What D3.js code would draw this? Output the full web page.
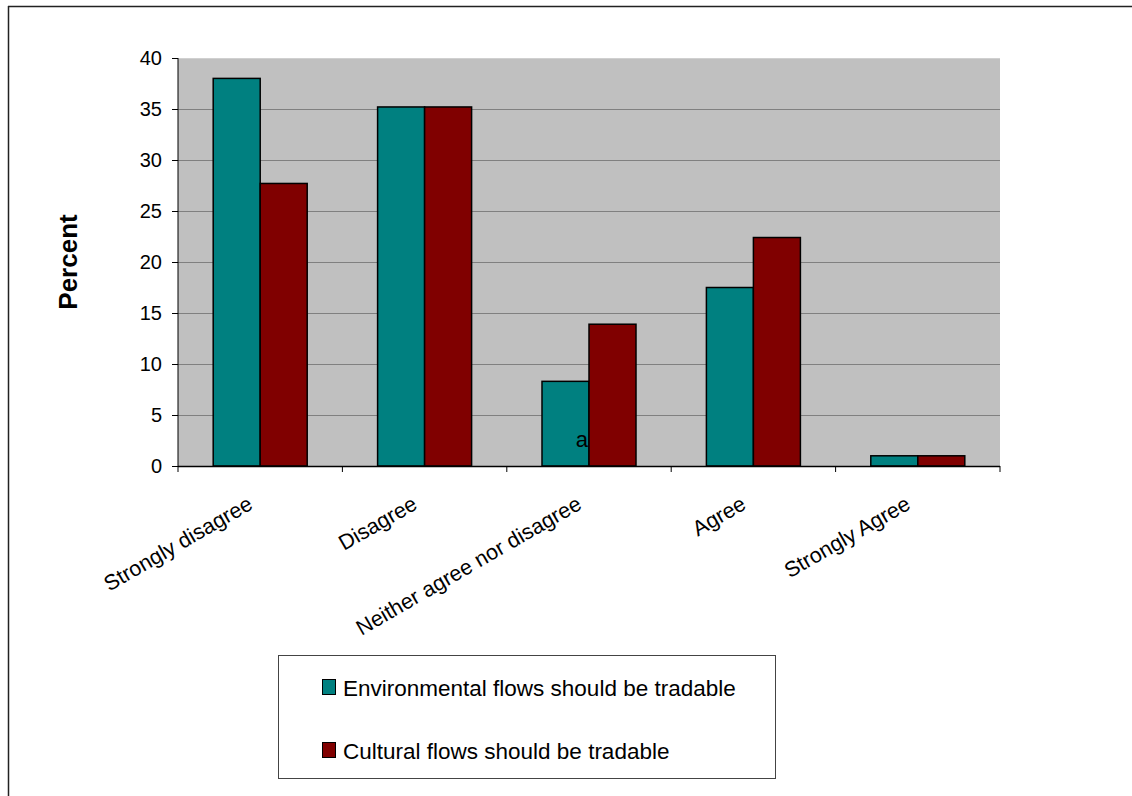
<!DOCTYPE html>
<html>
<head>
<meta charset="utf-8">
<script src="https://cdn.jsdelivr.net/npm/d3@7"></script>
<style>
  html, body { margin: 0; padding: 0; background: #fff; }
  svg { display: block; font-family: "Liberation Sans", Arial, sans-serif; }
</style>
</head>
<body>
<svg id="chart" width="1132" height="796"></svg>
<script>
const categories = ["Strongly disagree", "Disagree", "Neither agree nor disagree", "Agree", "Strongly Agree"];
const seriesNames = ["Environmental flows should be tradable", "Cultural flows should be tradable"];
const environmental = [38.0, 35.2, 8.3, 17.5, 1.0];
const cultural = [27.7, 35.2, 13.9, 22.4, 1.0];
const yTicks = [0, 5, 10, 15, 20, 25, 30, 35, 40];
const colors = ["#008080", "#800000"];
const yTitle = "Percent";

const svg = d3.select("#chart");
const W = 1132, H = 796;

// outer frame (top and left lines only)
svg.append("line").attr("x1", 8).attr("x2", W).attr("y1", 6.5).attr("y2", 6.5)
  .attr("stroke", "#222").attr("stroke-width", 1.5);
svg.append("line").attr("x1", 8.5).attr("x2", 8.5).attr("y1", 6).attr("y2", H)
  .attr("stroke", "#222").attr("stroke-width", 1.5);

const plot = { left: 178, top: 58, right: 1000, bottom: 466 };

const x0 = d3.scaleBand().domain(categories).range([plot.left, plot.right]).paddingInner(0).paddingOuter(0);
const groupW = 94;
const x1 = d3.scaleBand().domain(seriesNames).range([0, groupW]).padding(0);
const y = d3.scaleLinear().domain([0, 40]).range([plot.bottom, plot.top]);

// plot background
svg.append("rect").attr("x", plot.left).attr("y", plot.top)
  .attr("width", plot.right - plot.left).attr("height", plot.bottom - plot.top)
  .attr("fill", "#c0c0c0");

// gridlines
svg.append("g").selectAll("line").data(yTicks.filter(t => t > 0)).join("line")
  .attr("x1", plot.left).attr("x2", plot.right)
  .attr("y1", d => Math.round(y(d)) + 0.5).attr("y2", d => Math.round(y(d)) + 0.5)
  .attr("stroke", d => d === 40 ? "#d0d0d0" : "#808080").attr("stroke-width", 1);

// bars
const data = categories.map((c, i) => ({ cat: c, vals: [environmental[i], cultural[i]] }));
const groups = svg.append("g").selectAll("g").data(data).join("g")
  .attr("transform", d => `translate(${x0(d.cat) + (x0.bandwidth() - groupW) / 2},0)`);
groups.selectAll("rect").data(d => d.vals.map((v, j) => ({ v, s: seriesNames[j], j }))).join("rect")
  .attr("x", d => x1(d.s))
  .attr("y", d => y(d.v))
  .attr("width", x1.bandwidth())
  .attr("height", d => y(0) - y(d.v))
  .attr("fill", d => colors[d.j])
  .attr("stroke", "#000").attr("stroke-width", 1.5);

// stray "a" label inside the teal bar of category 3
svg.append("text")
  .attr("x", x0(categories[2]) + (x0.bandwidth() - groupW) / 2 + x1.bandwidth() - 1)
  .attr("y", 447).attr("text-anchor", "end")
  .attr("font-size", 22).attr("fill", "#000").text("a");

// y axis
const yAxis = d3.axisLeft(y).tickValues(yTicks).tickSize(6).tickPadding(10).tickFormat(d3.format("d"));
const gy = svg.append("g").attr("transform", `translate(${plot.left},0)`).call(yAxis);
gy.select(".domain").attr("stroke", "#000").attr("d", `M0,${plot.top}V${plot.bottom}`);
gy.selectAll(".tick line").attr("stroke", "#000");
gy.selectAll("text").attr("font-size", 20).attr("font-family", "Liberation Sans, Arial, sans-serif").attr("fill", "#000");

// x axis
const tickPositions = categories.map(c => x0(c)).concat([plot.right]);
svg.append("line").attr("x1", plot.left).attr("x2", plot.right)
  .attr("y1", plot.bottom + 0.5).attr("y2", plot.bottom + 0.5).attr("stroke", "#000").attr("stroke-width", 1.5);
svg.append("g").selectAll("line").data(tickPositions).join("line")
  .attr("x1", d => d).attr("x2", d => d)
  .attr("y1", plot.bottom).attr("y2", plot.bottom + 6)
  .attr("stroke", "#000");

svg.append("g").selectAll("text").data(categories).join("text")
  .attr("transform", d => `translate(${x0(d) + x0.bandwidth() / 2 - 6},508) rotate(-30)`)
  .attr("text-anchor", "end")
  .attr("font-size", 21.5).attr("fill", "#000")
  .text(d => d);

// y title
svg.append("text")
  .attr("transform", `translate(77,262) rotate(-90)`)
  .attr("text-anchor", "middle")
  .attr("font-size", 26).attr("font-weight", "bold").attr("fill", "#000")
  .text(yTitle);

// legend
const legend = svg.append("g");
legend.append("rect").attr("x", 278.5).attr("y", 655.5).attr("width", 497).attr("height", 123)
  .attr("fill", "#fff").attr("stroke", "#444").attr("stroke-width", 1);
const items = legend.selectAll("g").data(seriesNames).join("g")
  .attr("transform", (d, i) => `translate(322,${679 + i * 63})`);
items.append("rect").attr("x", 0.5).attr("y", 0.5).attr("width", 13).attr("height", 15)
  .attr("fill", (d, i) => colors[i]).attr("stroke", "#000").attr("stroke-width", 1);
items.append("text").attr("x", 21).attr("y", 16.5)
  .attr("font-size", 22.5).attr("fill", "#000").text(d => d);
</script>
</body>
</html>
